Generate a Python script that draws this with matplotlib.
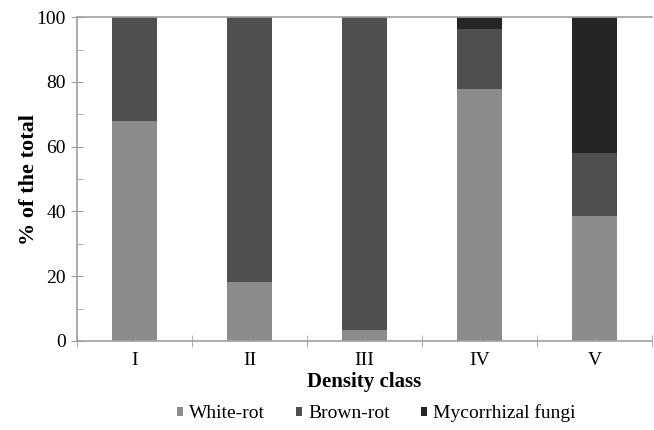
import numpy as np
import matplotlib
matplotlib.use("Agg")
import matplotlib.pyplot as plt
from matplotlib.ticker import MultipleLocator, FixedLocator

# data
classes = ["I", "II", "III", "IV", "V"]
white_rot = [68, 18.3, 3.5, 77.8, 38.6]
brown_rot = [32, 81.7, 96.5, 18.5, 19.4]
mycorrhizal = [0, 0, 0, 3.7, 42.0]

colors = ["#8c8c8c", "#4f4f4f", "#252525"]

plt.rcParams['font.family'] = ['Liberation Serif', 'DejaVu Serif']

fig = plt.figure(figsize=(6.54, 4.30), dpi=100)
ax = fig.add_axes([0.118, 0.207, 0.879, 0.753])

x = np.arange(len(classes))
w = 0.39
ax.bar(x, white_rot, w, color=colors[0], label="White-rot")
ax.bar(x, brown_rot, w, bottom=white_rot, color=colors[1], label="Brown-rot")
bottom2 = np.array(white_rot) + np.array(brown_rot)
ax.bar(x, mycorrhizal, w, bottom=bottom2, color=colors[2], label="Mycorrhizal fungi")

ax.set_xlim(-0.5, 4.5)
ax.set_ylim(0, 100)
ax.yaxis.set_major_locator(MultipleLocator(20))
ax.yaxis.set_minor_locator(MultipleLocator(10))
ax.set_xticks(x)
ax.set_xticklabels(classes)
ax.xaxis.set_minor_locator(FixedLocator(np.arange(-0.5, 5, 1)))

spine_c = "#a0a0a0"
for s in ["left", "bottom", "top"]:
    ax.spines[s].set_color(spine_c)
    ax.spines[s].set_linewidth(1.2)
ax.spines["right"].set_visible(False)

ax.tick_params(axis="y", which="major", direction="inout", length=8, color=spine_c, labelsize=14, pad=4)
ax.tick_params(axis="y", which="minor", direction="in", length=4, color=spine_c)
ax.tick_params(axis="x", which="major", direction="in", length=3, color=spine_c, labelsize=14, pad=8)
ax.tick_params(axis="x", which="minor", direction="inout", length=8, color=spine_c)
ax.tick_params(top=False, which="both")

ax.set_ylabel("% of the total", fontsize=16, fontweight="bold", labelpad=-2)
ax.set_xlabel("Density class", fontsize=15, fontweight="bold", labelpad=2)

ax.legend(loc="center", bbox_to_anchor=(0.52, -0.223), ncol=3, frameon=False,
          fontsize=14, handlelength=0.32, handleheight=0.32, handletextpad=0.3,
          columnspacing=1.6)

fig.savefig("out.png", dpi=100)
